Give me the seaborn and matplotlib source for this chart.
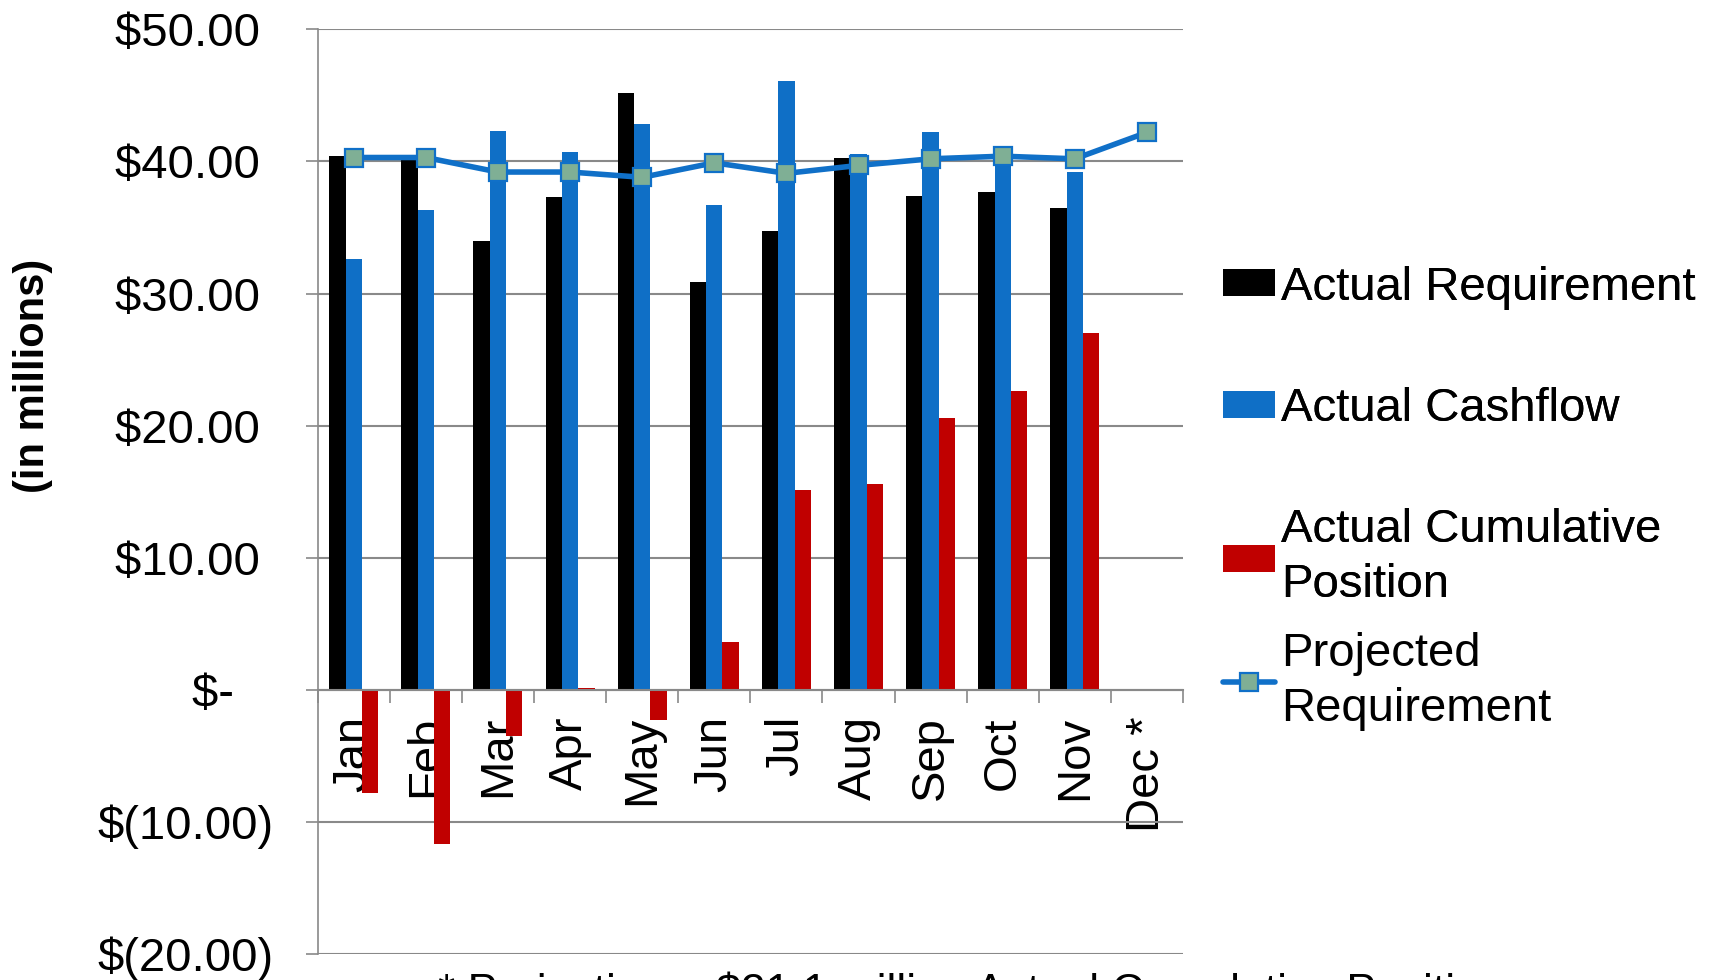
import numpy as np
import pandas as pd
import seaborn as sns
import matplotlib.pyplot as plt
from matplotlib.patches import Patch
from matplotlib.lines import Line2D
from matplotlib.ticker import FuncFormatter

# Monthly values, $ millions
months = ["Jan", "Feb", "Mar", "Apr", "May", "Jun", "Jul", "Aug", "Sep", "Oct", "Nov", "Dec *"]
actual_requirement = [40.4, 40.1, 34.0, 37.3, 45.2, 30.9, 34.7, 40.3, 37.4, 37.7, 36.5, np.nan]
actual_cashflow = [32.6, 36.3, 42.3, 40.7, 42.8, 36.7, 46.1, 40.6, 42.2, 40.4, 39.2, np.nan]
actual_cumulative = [-7.8, -11.7, -3.5, 0.15, -2.3, 3.6, 15.1, 15.6, 20.6, 22.6, 27.0, np.nan]
projected_requirement = [40.3, 40.3, 39.2, 39.2, 38.8, 39.9, 39.1, 39.7, 40.2, 40.4, 40.2, 42.2]

series_names = ["Actual Requirement", "Actual Cashflow", "Actual Cumulative\nPosition"]
series_colors = ["#000000", "#0F6FC6", "#C00000"]
line_name = "Projected\nRequirement"
line_color = "#1070C8"
marker_face = "#7FAF95"
grid_gray = "#898989"
footnote = "* Projection = $21.1 million Actual Cumulative Position"

# long table for seaborn
df = pd.DataFrame({
    "month": months * 3,
    "series": [s for s in series_names for _ in months],
    "value": actual_requirement + actual_cashflow + actual_cumulative,
})

sns.set_theme(style="white")
plt.rcParams["font.family"] = ["Liberation Sans", "DejaVu Sans"]
plt.rcParams["text.color"] = "black"

fig = plt.figure(figsize=(17.17, 9.8), dpi=100)
ax = fig.add_axes([0.185, 0.0267, 0.504, 0.9433])

sns.barplot(data=df, x="month", y="value", hue="series", order=months,
            hue_order=series_names, palette=series_colors, saturation=1,
            width=0.68, errorbar=None, linewidth=0, legend=False, ax=ax)

sns.lineplot(x=np.arange(len(months)), y=projected_requirement, ax=ax,
             color=line_color, linewidth=4, marker="s", markersize=13,
             markerfacecolor=marker_face, markeredgecolor=line_color,
             markeredgewidth=1.6, zorder=5)


def money(v, pos):
    if abs(v) < 1e-9:
        return "$-   "
    if v < 0:
        return f"$({abs(v):.2f})"
    return f"${v:.2f} "


# spine first: moving it resets the tick objects
for side in ["top", "right"]:
    ax.spines[side].set_visible(False)
ax.spines["left"].set_color(grid_gray)
ax.spines["left"].set_linewidth(1.2)
ax.spines["bottom"].set_color(grid_gray)
ax.spines["bottom"].set_linewidth(1.5)
ax.spines["bottom"].set_position(("data", 0))

ax.set_ylim(-20, 50)
ax.set_yticks(np.arange(-20, 51, 10))
ax.yaxis.set_major_formatter(FuncFormatter(money))
ax.set_xlim(-0.5, len(months) - 0.5)
ax.set_xticks(np.arange(len(months)))
ax.set_xticklabels(months)
ax.set_xticks(np.arange(-0.5, len(months), 1), minor=True)
ax.set_xlabel("")
ax.set_ylabel("")

ax.yaxis.grid(True, color=grid_gray, linewidth=1.5)
ax.set_axisbelow(True)

ax.tick_params(axis="y", which="major", left=True, length=9, width=1.2,
               color=grid_gray, pad=23, labelsize=34, labelcolor="black")
ax.tick_params(axis="x", which="major", bottom=True, length=0, pad=19,
               labelsize=34, labelcolor="black", labelrotation=90)
ax.tick_params(axis="x", which="minor", bottom=True, length=9, width=1.2,
               color=grid_gray)

# legends: bar series, then the projected line a little tighter below
bar_handles = [Patch(facecolor=c, edgecolor="none") for c in series_colors]
leg1 = fig.legend(bar_handles, series_names, loc="upper left",
                  bbox_to_anchor=(0.712, 0.729), frameon=False, fontsize=34,
                  borderpad=0, borderaxespad=0, labelspacing=1.64,
                  handlelength=1.12, handleheight=0.5, handletextpad=0.12)
line_handle = Line2D([], [], color=line_color, linewidth=4, marker="s",
                     markersize=13, markerfacecolor=marker_face,
                     markeredgecolor=line_color, markeredgewidth=1.6)
leg2 = fig.legend([line_handle], [line_name], loc="upper left",
                  bbox_to_anchor=(0.712, 0.355), frameon=False, fontsize=34,
                  borderpad=0, borderaxespad=0, handlelength=1.12,
                  handletextpad=0.12)
fig.add_artist(leg1)
for leg in (leg1, leg2):
    for t in leg.get_texts():
        t.set_linespacing(1.32)
        t.set_color("black")

fig.text(0.019, 0.616, "(in millions)", rotation=90, ha="center", va="center",
         fontsize=30, fontweight="bold", color="black")
fig.text(0.255, 0.009, footnote, ha="left", va="top", fontsize=32, color="black")

fig.savefig("out.png", dpi=100)
